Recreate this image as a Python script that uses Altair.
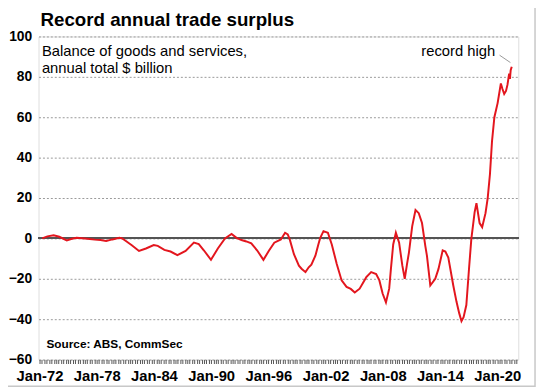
import altair as alt
import pandas as pd

# ---- data (annual total, $ billion) ----
years = [1972.28, 1972.83, 1973.48, 1974.07, 1974.86, 1975.31, 1975.89, 1976.75,
         1977.79, 1978.40, 1978.99, 1979.64, 1980.37, 1980.68, 1981.06, 1981.71,
         1982.43, 1983.16, 1983.98, 1984.40, 1985.09, 1985.74, 1986.46, 1987.32,
         1988.19, 1988.70, 1989.25, 1989.98, 1990.70, 1991.45, 1992.14, 1992.66,
         1993.18, 1993.69, 1994.21, 1994.83, 1995.48, 1996.07, 1996.62, 1997.31,
         1997.75, 1998.03, 1998.24, 1998.68, 1999.20, 1999.48, 1999.89, 2000.23,
         2000.51, 2000.93, 2001.24, 2001.44, 2001.78, 2002.24, 2002.65, 2003.17,
         2003.68, 2004.20, 2004.64, 2005.06, 2005.57, 2006.27, 2006.78, 2007.30,
         2007.64, 2007.98, 2008.33, 2008.67, 2008.85, 2009.09, 2009.37, 2009.71,
         2010.05, 2010.30, 2010.53, 2010.74, 2011.08, 2011.43, 2011.77, 2012.11,
         2012.46, 2012.63, 2012.98, 2013.50, 2013.84, 2014.28, 2014.56, 2014.87,
         2015.39, 2015.73, 2016.01, 2016.25, 2016.47, 2016.76, 2017.04, 2017.28,
         2017.63, 2017.82, 2018.15, 2018.42, 2018.77, 2019.00, 2019.24, 2019.45,
         2019.70, 2020.04, 2020.38, 2020.55, 2020.73, 2020.92, 2021.07, 2021.25,
         2021.33, 2021.41, 2021.52]
values = [0.0, 1.0, 1.6, 0.8, -1.0, -0.3, 0.3, 0.0,
          -0.6, -0.8, -1.3, -0.5, 0.3, 0.0, -1.3, -3.5,
          -6.2, -5.0, -3.3, -3.7, -5.7, -6.5, -8.3, -6.2,
          -2.1, -2.8, -6.0, -10.6, -5.0, 0.0, 2.2, 0.3,
          -0.8, -1.5, -2.4, -6.0, -10.6, -6.0, -2.1, -0.5,
          2.8, 2.0, -0.5, -7.8, -13.5, -15.0, -16.7, -14.3,
          -13.0, -8.6, -3.0, 0.3, 3.6, 2.8, -3.0, -12.7,
          -20.8, -24.0, -25.0, -26.8, -24.9, -19.2, -16.7, -17.6,
          -20.8, -27.3, -31.7, -24.9, -15.1, -3.0, 2.8, -2.1,
          -13.5, -20.0, -13.0, -7.0, 6.0, 14.1, 12.5, 7.6,
          -3.8, -8.6, -23.3, -20.0, -15.1, -5.9, -6.5, -9.5,
          -23.3, -31.4, -37.0, -41.0, -39.0, -33.0, -15.0, -0.5,
          13.0, 17.4, 7.6, 5.5, 12.5, 20.0, 32.0, 48.0,
          60.0, 67.0, 76.7, 74.0, 71.5, 73.0, 76.0, 81.6,
          79.0, 83.3, 85.0]

y_ticks = [-60, -40, -20, 0, 20, 40, 60, 80, 100]
x_label_years = [1972, 1978, 1984, 1990, 1996, 2002, 2008, 2014, 2020]
title_text = "Record annual trade surplus"
note_line1 = "Balance of goods and services,"
note_line2 = "annual total $ billion"
source_text = "Source: ABS, CommSec"
record_text = "record high"

df = pd.DataFrame({"year": years, "value": values})

FONT = "Liberation Sans"
W, H = 487, 328

# quarterly minor ticks along the bottom axis
quarter_ticks = [1972 + q * 0.25 for q in range(0, 201)]
label_expr = ("indexof([" + ",".join(str(y) for y in x_label_years) + "], datum.value) >= 0"
              " ? 'Jan-' + substring(toString(datum.value), 2, 4) : ''")

x_scale = alt.Scale(domain=[1971.897, 2022.207], nice=False, zero=False)
y_scale = alt.Scale(domain=[-60, 100], nice=False, zero=False)

x_axis = alt.Axis(values=quarter_ticks, labelExpr=label_expr, title=None, grid=False,
                  tickSize=4, tickColor="#555555", tickWidth=1, domain=False,
                  labelFontSize=15, labelFontWeight="bold", labelPadding=5,
                  labelOverlap=False, labelBound=False, labelFlush=False,
                  labelColor="black", labelFont=FONT)
y_axis = alt.Axis(values=y_ticks, title=None, grid=True, gridDash=[2, 2],
                  gridColor="#999999", gridWidth=1, ticks=False, domain=False,
                  labelFontSize=14, labelFontWeight="bold", labelPadding=7,
                  labelColor="black", labelFont=FONT, labelBaseline="middle")

base = alt.Chart(df)

zero = base.mark_rule(color="#555555", strokeWidth=1.3).encode(
    y=alt.Y(datum=0, type="quantitative", scale=y_scale, axis=y_axis)
)

line = base.mark_line(color="#E3161E", strokeWidth=2).encode(
    x=alt.X("year:Q", scale=x_scale, axis=x_axis),
    y=alt.Y("value:Q", scale=y_scale, axis=y_axis),
)

one = pd.DataFrame({"k": [0]})


def label(text, x, y, size, weight="normal", align="left", color="black"):
    return alt.Chart(one).mark_text(
        text=text, align=align, baseline="alphabetic", fontSize=size,
        fontWeight=weight, font=FONT, color=color
    ).encode(x=alt.value(x), y=alt.value(y))


title = label(title_text, 2, -10.4, 19, "bold")
note1 = label(note_line1, 3.4, 19.5, 15)
note2 = label(note_line2, 3.4, 37, 15)
src = label(source_text, 8, 316, 12, "bold")
rec = label(record_text, 463.5, 19.5, 15, align="right")

leader = alt.Chart(one).mark_rule(color="#999999", strokeWidth=1).encode(
    x=alt.value(468), y=alt.value(19), x2=alt.value(479), y2=alt.value(26.5)
)

outer = alt.Chart(one).mark_rect(fill=None, stroke="#c8c8c8", strokeWidth=1.5).encode(
    x=alt.value(-37), x2=alt.value(504), y=alt.value(-32), y2=alt.value(355)
)

chart = alt.layer(outer, zero, line, leader, title, note1, note2, src, rec).properties(
    width=W, height=H,
    autosize=alt.AutoSizeParams(type="none"),
    padding={"left": 31, "top": 26, "right": 19, "bottom": 29},
    background="white",
).configure_view(stroke="#333333", strokeWidth=1.5).configure(font=FONT)

chart.save("out.html", embed_options={"renderer": "svg", "actions": False})
